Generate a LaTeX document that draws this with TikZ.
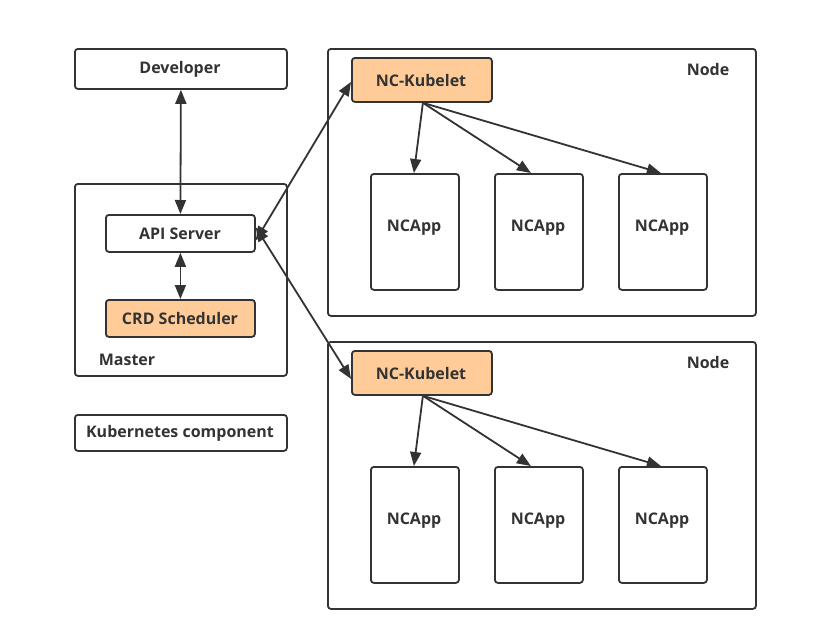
\documentclass[tikz,border=0pt]{standalone}
\usepackage{fontspec}
\setmainfont{Open Sans}
\usetikzlibrary{arrows.meta}
\definecolor{ink}{HTML}{333333}
\definecolor{peach}{HTML}{FFCC99}
\begin{document}
\begin{tikzpicture}[x=1pt,y=-1pt,
  box/.style={draw=ink, line width=1.8pt, rounded corners=3pt, inner sep=0pt, anchor=north west, text=ink},
  hot/.style={box, fill=peach},
  lbl/.style={font=\bfseries\fontsize{16}{18}\selectfont, text=ink, inner sep=0pt, yshift=-1.5pt},
  tip/.style={},
  conn/.style={draw=ink, line width=1.8pt, -{Triangle[length=14pt,width=11pt]}},
  bi/.style={draw=ink, line width=1.8pt, {Triangle[length=14pt,width=11pt]}-{Triangle[length=14pt,width=11pt]}}]
\useasboundingbox (0,0) rectangle (821,641);
% left column
\node[box, minimum width=212pt, minimum height=40pt] (dev) at (74,48) {};
\node[lbl] at (180,68) {Developer};
\node[box, minimum width=212pt, minimum height=192pt] (master) at (74,183) {};
\node[lbl] (masterlbl) at (127,358) {Master};
\node[box, minimum width=149pt, minimum height=37pt] (api) at (105,214) {};
\node[lbl] at (180,232) {API Server};
\node[hot, minimum width=149pt, minimum height=37pt] (crd) at (105,299) {};
\node[lbl] at (180,317) {CRD Scheduler};
\node[box, minimum width=212pt, minimum height=36pt] (kc) at (74,414) {};
\node[lbl] at (180,432) {Kubernetes component};
% node 1
\node[box, minimum width=428pt, minimum height=267pt] (n1) at (327,48) {};
\node[lbl] (n1lbl) at (708,68) {Node};
\node[hot, minimum width=140pt, minimum height=44pt] (k1) at (351,57) {};
\node[lbl] at (421,79) {NC-Kubelet};
\node[box, minimum width=88pt, minimum height=116pt] (a11) at (370,173) {};
\node[lbl] at (414,226) {NCApp};
\node[box, minimum width=88pt, minimum height=116pt] (a12) at (494,173) {};
\node[lbl] at (538,226) {NCApp};
\node[box, minimum width=88pt, minimum height=116pt] (a13) at (618,173) {};
\node[lbl] at (662,226) {NCApp};
% node 2
\node[box, minimum width=428pt, minimum height=267pt] (n2) at (327,341) {};
\node[lbl] (n2lbl) at (708,361) {Node};
\node[hot, minimum width=140pt, minimum height=44pt] (k2) at (351,350) {};
\node[lbl] at (421,372) {NC-Kubelet};
\node[box, minimum width=88pt, minimum height=116pt] (a21) at (370,466) {};
\node[lbl] at (414,519) {NCApp};
\node[box, minimum width=88pt, minimum height=116pt] (a22) at (494,466) {};
\node[lbl] at (538,519) {NCApp};
\node[box, minimum width=88pt, minimum height=116pt] (a23) at (618,466) {};
\node[lbl] at (662,519) {NCApp};
% connectors
\draw[bi] (dev.south) -- (api.north);
\draw[bi] (api.south) -- (crd.north);
\draw[bi] ([yshift=-7pt]api.east) -- ([yshift=-2pt]k1.west);
\draw[bi] ([yshift=6pt]api.east) -- ([yshift=-6pt]k2.west);
\draw[conn] ([xshift=1pt]k1.south) -- ([xshift=-1pt]a11.north);
\draw[conn] ([xshift=1pt]k1.south) -- ([xshift=-8pt]a12.north);
\draw[conn] ([xshift=1pt]k1.south) -- ([xshift=-2pt]a13.north);
\draw[conn] ([xshift=1pt]k2.south) -- ([xshift=-1pt]a21.north);
\draw[conn] ([xshift=1pt]k2.south) -- ([xshift=-8pt]a22.north);
\draw[conn] ([xshift=1pt]k2.south) -- ([xshift=-2pt]a23.north);
\end{tikzpicture}
\end{document}
